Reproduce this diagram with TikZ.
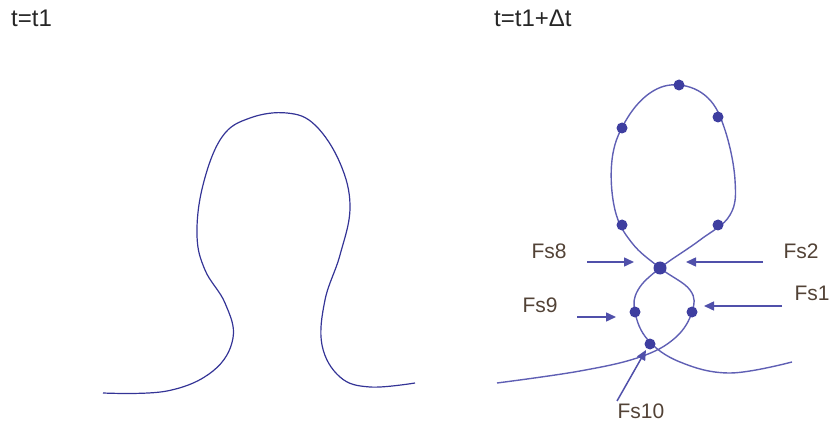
\documentclass[tikz,border=0pt]{standalone}
\usepackage{fontspec}
\setmainfont{Liberation Sans}
\usetikzlibrary{arrows.meta}
\definecolor{curveA}{RGB}{52,52,150}
\definecolor{curveB}{RGB}{95,95,180}
\definecolor{dotc}{RGB}{62,62,160}
\definecolor{arrc}{RGB}{80,80,170}
\definecolor{titlec}{RGB}{38,38,38}
\definecolor{labc}{RGB}{82,66,54}
\tikzset{
  title/.style={font=\fontsize{24}{27}\selectfont, text=titlec, anchor=base west, inner sep=0pt},
  flabel/.style={font=\fontsize{21}{24}\selectfont, text=labc, inner sep=0pt},
  dotmark/.style={circle, fill=dotc, inner sep=0pt, minimum size=11pt},
  forcearrow/.style={draw=arrc, line width=1.5pt, -{Triangle[length=10pt,width=9pt]}},
}
\begin{document}
\begin{tikzpicture}[x=1pt,y=-1pt]
\useasboundingbox (0,0) rectangle (831,425);
% titles
\node[title] (t1) at (11,27) {t=t1};
\node[title] (t2) at (494,27) {t=t1+Δt};
% left curve
\draw[curveA, line width=1.2pt] plot[smooth, tension=0.65] coordinates {
 (103,393) (167,391) (213,371) (233,338) (225,303) (205,270) (197,235) (203,185)
 (222,137) (250,118) (287,113) (315,125) (340,163) (350,207) (340,255) (325,300)
 (322,345) (340,377) (370,387) (415,383)};
% right curve
\draw[curveB, line width=1.4pt] plot[smooth, tension=0.65] coordinates {
 (497,383) (580,371) (640,357) (675,338) (692,312) (690,290) (660,268) (632,243)
 (615,210) (612,160) (625,122) (650,93) (679,85) (708,98) (725,130) (735,180)
 (730,215) (700,240) (660,268) (638,290) (635,312) (648,340) (680,362) (730,373)
 (792,362)};
% dots
\node[dotmark] (d1) at (679,85) {};
\node[dotmark] (d2) at (718,117) {};
\node[dotmark] (d3) at (622,128) {};
\node[dotmark] (d4) at (622,225) {};
\node[dotmark] (d5) at (718,225) {};
\node[dotmark, minimum size=13pt] (dc) at (660,268) {};
\node[dotmark] (d6) at (635,312) {};
\node[dotmark] (d7) at (692,312) {};
\node[dotmark] (d8) at (650,344) {};
% labels
\node[flabel] (fs8) at (549,251) {Fs8};
\node[flabel] (fs2) at (801,251) {Fs2};
\node[flabel] (fs9) at (540,305) {Fs9};
\node[flabel] (fs1) at (812,293) {Fs1};
\node[flabel] (fs10) at (641,411) {Fs10};
% arrow coordinates
\coordinate (a8s) at (587,262); \coordinate (a8e) at (634,262);
\coordinate (a2s) at (763,262); \coordinate (a2e) at (686,262);
\coordinate (a9s) at (577,317); \coordinate (a9e) at (616,317);
\coordinate (a1s) at (782,306); \coordinate (a1e) at (704,306);
\coordinate (a10s) at (617,401); \coordinate (a10e) at (646,350);
\draw[forcearrow] (a8s) -- (a8e);
\draw[forcearrow] (a2s) -- (a2e);
\draw[forcearrow] (a9s) -- (a9e);
\draw[forcearrow] (a1s) -- (a1e);
\draw[forcearrow] (a10s) -- (a10e);
\end{tikzpicture}
\end{document}
